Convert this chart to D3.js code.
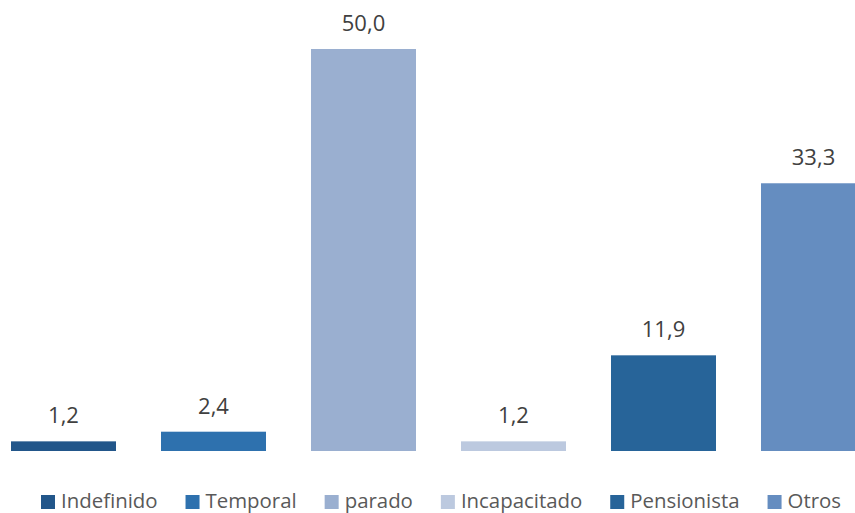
<!DOCTYPE html>
<html>
<head>
<meta charset="utf-8">
<script src="https://cdn.jsdelivr.net/npm/d3@7"></script>
<style>
  body { margin: 0; background: #fff; }
  text { font-family: "Open Sans", sans-serif; }
</style>
</head>
<body>
<script>
// data
const categories = ["Indefinido", "Temporal", "parado", "Incapacitado", "Pensionista", "Otros"];
const values = [1.2, 2.4, 50.0, 1.2, 11.9, 33.3];
const colors = ["#22568A", "#2E71AE", "#9AAFD0", "#BCC9DF", "#276499", "#658DC0"];

const width = 855, height = 513;

const svg = d3.select("body")
  .append("svg")
  .attr("width", width)
  .attr("height", height);

// x band, step 150, bars 105 wide
const x = d3.scaleBand()
  .domain(categories)
  .range([-11.5, 888.5])
  .paddingInner(0.3)
  .paddingOuter(0.15);

const y = d3.scaleLinear()
  .domain([0, 50])
  .range([451, 49]);

const fmt = d => d.toFixed(1).replace(".", ",");

// bars
svg.selectAll(".bar")
  .data(categories)
  .enter()
  .append("rect")
  .attr("class", "bar")
  .attr("x", d => x(d))
  .attr("y", (d, i) => y(values[i]))
  .attr("width", x.bandwidth())
  .attr("height", (d, i) => y(0) - y(values[i]))
  .attr("fill", (d, i) => colors[i]);

// value labels
svg.selectAll(".lbl")
  .data(categories)
  .enter()
  .append("text")
  .attr("class", "lbl")
  .attr("x", d => x(d) + x.bandwidth() / 2)
  .attr("y", (d, i) => y(values[i]) - 18)
  .attr("text-anchor", "middle")
  .attr("font-size", 22)
  .attr("fill", "#404040")
  .text((d, i) => fmt(values[i]));

// legend
const legend = svg.append("g")
  .attr("transform", "translate(41,0)");

let cx = 0;
categories.forEach(function (c, i) {
  const g = legend.append("g").attr("transform", `translate(${cx},0)`);
  g.append("rect")
    .attr("x", 0)
    .attr("y", 495)
    .attr("width", 14)
    .attr("height", 14)
    .attr("fill", colors[i]);
  const t = g.append("text")
    .attr("x", 20)
    .attr("y", 508)
    .attr("font-size", 20.4)
    .attr("fill", "#595959")
    .text(c);
  cx += 20 + t.node().getComputedTextLength() + 28;
});
</script>
</body>
</html>
